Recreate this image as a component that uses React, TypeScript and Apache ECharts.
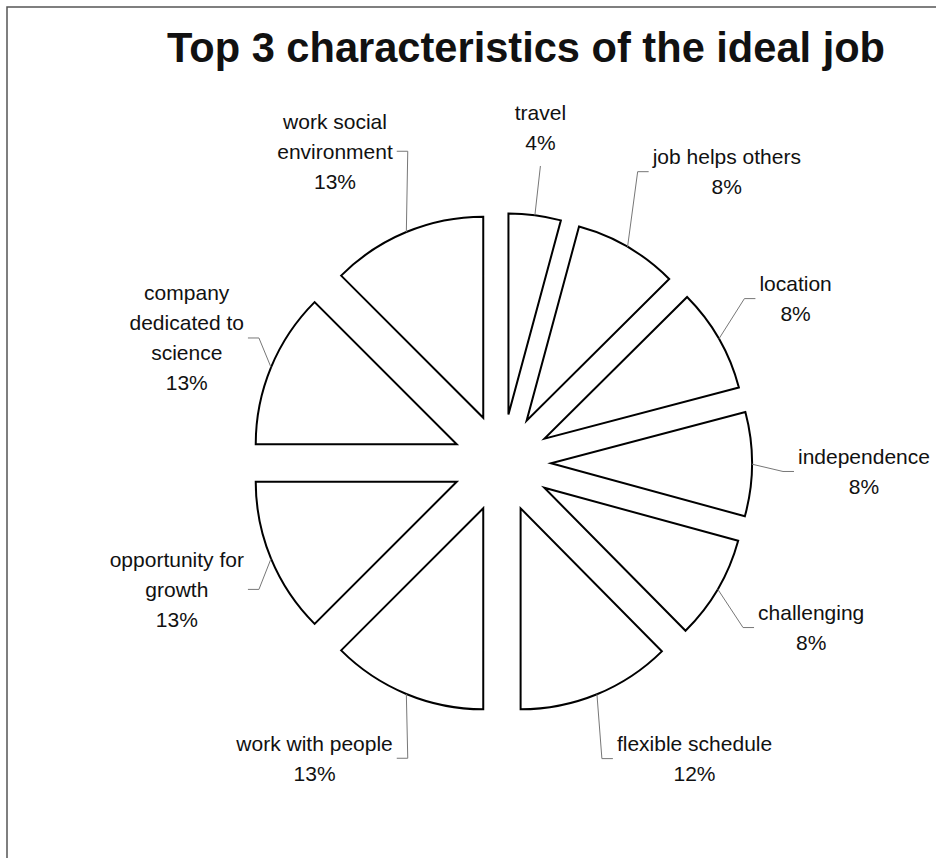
import React, { useEffect, useRef } from "react";
import * as echarts from "echarts";

// ---- data ----
const categories = [
  "travel",
  "job helps others",
  "location",
  "independence",
  "challenging",
  "flexible schedule",
  "work with people",
  "opportunity for growth",
  "company dedicated to science",
  "work social environment",
];
// wrapped label text (as laid out in the picture)
const wrappedNames = [
  "travel",
  "job helps others",
  "location",
  "independence",
  "challenging",
  "flexible schedule",
  "work with people",
  "opportunity for\ngrowth",
  "company\ndedicated to\nscience",
  "work social\nenvironment",
];
// slice shares (measured from slice angles)
const shares = [4.2, 8.35, 8.35, 8.35, 8.35, 12.4, 12.5, 12.5, 12.5, 12.5];
// percentage labels as printed on the chart
const percentLabels = ["4%", "8%", "8%", "8%", "8%", "12%", "13%", "13%", "13%", "13%"];
const titleText = "Top 3 characteristics of the ideal job";

// ---- layout constants ----
const CX = 502;
const CY = 463;
const R = 201;
const OFFSET = 49;
const LABEL_CY = 470;
const RX_RIGHT = 292;
const RX_LEFT = 275;
const RY_UP = 345;
const RY_DOWN = 312;
const FONT = "'Liberation Sans', Arial, Helvetica, sans-serif";
const FONT_SIZE = 21;
const LINE_H = 30;

export default function App() {
  const ref = useRef<HTMLDivElement>(null);

  useEffect(() => {
    if (!ref.current) return;
    const chart = echarts.init(ref.current, undefined, { renderer: "svg" });

    const total = shares.reduce((a, b) => a + b, 0);
    const starts: number[] = [];
    const ends: number[] = [];
    let acc = 0;
    shares.forEach((v) => {
      starts.push((acc / total) * Math.PI * 2);
      acc += v;
      ends.push((acc / total) * Math.PI * 2);
    });

    const canvas = document.createElement("canvas");
    const ctx = canvas.getContext("2d")!;
    ctx.font = `${FONT_SIZE}px ${FONT}`;
    const measure = (s: string) => {
      const lines = s.split("\n");
      let w = 0;
      lines.forEach((l) => {
        w = Math.max(w, ctx.measureText(l).width);
      });
      return { w, h: lines.length * LINE_H };
    };

    const renderItem = (params: any, api: any) => {
      const i = params.dataIndex;
      const a0 = starts[i];
      const a1 = ends[i];
      const th = (a0 + a1) / 2;
      const dx = Math.sin(th);
      const dy = -Math.cos(th);
      const scx = CX + OFFSET * dx;
      const scy = CY + OFFSET * dy;
      const text = `${wrappedNames[i]}\n${percentLabels[i]}`;
      const { w, h } = measure(text);
      const ax = CX + (dx >= 0 ? RX_RIGHT : RX_LEFT) * dx;
      const ay = LABEL_CY + (dy <= 0 ? RY_UP : RY_DOWN) * dy;
      const p0 = [scx + R * dx, scy + R * dy];
      let lx: number;
      const ly = ay;
      let p1: number[];
      let p2: number[];
      if (dx > 0.3) {
        lx = ax + 4 + w / 2;
        p2 = [ax, ay];
        p1 = [ax - 11, ay];
      } else if (dx < -0.3) {
        lx = ax - 4 - w / 2;
        p2 = [ax, ay];
        p1 = [ax + 11, ay];
      } else {
        lx = ax;
        const yy = dy < 0 ? ay + h / 2 + 8 : ay - h / 2 - 8;
        p2 = [ax, yy];
        p1 = [ax, yy];
      }
      return {
        type: "group",
        children: [
          {
            type: "sector",
            shape: {
              cx: scx,
              cy: scy,
              r0: 0,
              r: R,
              startAngle: a0 - Math.PI / 2,
              endAngle: a1 - Math.PI / 2,
              clockwise: true,
            },
            style: { fill: "#ffffff", stroke: "#000", lineWidth: 2, lineJoin: "miter" },
          },
          {
            type: "polyline",
            shape: { points: [p0, p1, p2] },
            style: { stroke: "#777", lineWidth: 1, fill: null },
          },
          {
            type: "text",
            x: lx,
            y: ly,
            style: {
              text,
              fontFamily: FONT,
              fontSize: FONT_SIZE,
              lineHeight: LINE_H,
              fill: "#111",
              align: "center",
              verticalAlign: "middle",
            },
          },
        ],
      };
    };

    const option: any = {
      animation: false,
      backgroundColor: "#ffffff",
      title: {
        text: titleText,
        left: 521,
        textAlign: "center",
        top: 21,
        textStyle: {
          fontFamily: FONT,
          fontSize: 41.6,
          fontWeight: "bold",
          color: "#111",
          textShadowColor: "rgba(0,0,0,0.35)",
          textShadowOffsetX: 2,
          textShadowOffsetY: 2,
          textShadowBlur: 0,
        },
      },
      graphic: [
        {
          type: "rect",
          shape: { x: 7, y: 7, width: 940, height: 870 },
          style: { fill: "none", stroke: "#555", lineWidth: 1.5 },
          silent: true,
        },
      ],
      series: [
        {
          type: "custom",
          coordinateSystem: "none",
          renderItem,
          data: categories.map((name, i) => ({ name, value: shares[i] })),
        },
      ],
    };

    chart.setOption(option);
    return () => chart.dispose();
  }, []);

  return (
    <div
      ref={ref}
      style={{ position: "fixed", left: 0, top: 0, width: 936, height: 858 }}
    />
  );
}
